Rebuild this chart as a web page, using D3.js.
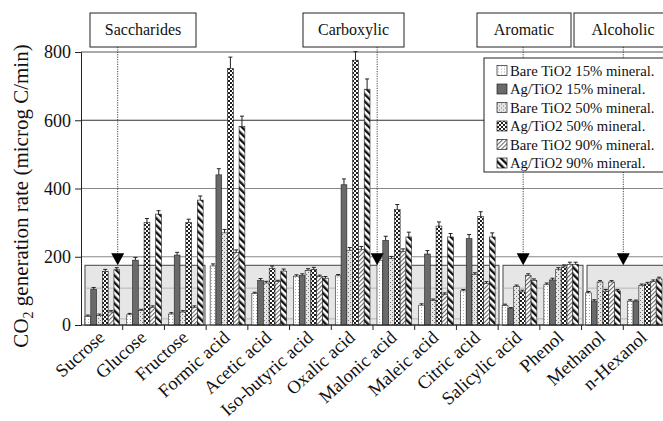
<!DOCTYPE html>
<html>
<head>
<meta charset="utf-8">
<script src="https://cdn.jsdelivr.net/npm/d3@7"></script>
<style>
  body { margin: 0; background: #fff; }
  svg { display: block; font-family: "Liberation Serif", "Times New Roman", serif; }
</style>
</head>
<body>
<div id="chart"></div>
<script>
const categories = ['Sucrose', 'Glucose', 'Fructose', 'Formic acid', 'Acetic acid', 'Iso-butyric acid',
  'Oxalic acid', 'Malonic acid', 'Maleic acid', 'Citric acid', 'Salicylic acid', 'Phenol', 'Methanol', 'n-Hexanol'];
const seriesNames = ['Bare TiO2 15% mineral.', 'Ag/TiO2 15% mineral.', 'Bare TiO2 50% mineral.',
  'Ag/TiO2 50% mineral.', 'Bare TiO2 90% mineral.', 'Ag/TiO2 90% mineral.'];

const bare15 = [25, 30, 32, 173, 92, 143, 144, 190, 58, 100, 57, 118, 94, 70];
const ag15   = [105, 190, 205, 440, 130, 145, 411, 248, 208, 253, 48, 132, 70, 70];
const bare50 = [28, 42, 38, 270, 123, 160, 219, 195, 72, 148, 113, 162, 126, 116];
const ag50   = [157, 300, 300, 752, 165, 163, 776, 338, 290, 318, 97, 170, 99, 120];
const bare90 = [38, 52, 52, 212, 127, 142, 222, 215, 90, 122, 145, 178, 126, 128];
const ag90   = [162, 325, 366, 582, 158, 137, 691, 258, 258, 258, 130, 178, 100, 135];

const errBare15 = [4, 4, 4, 6, 4, 4, 4, 6, 4, 4, 4, 5, 4, 4];
const errAg15   = [5, 8, 8, 18, 6, 5, 17, 12, 10, 12, 3, 5, 4, 3];
const errBare50 = [4, 4, 4, 10, 5, 5, 8, 6, 4, 5, 4, 6, 4, 4];
const errAg50   = [6, 12, 10, 33, 8, 6, 25, 15, 12, 14, 5, 6, 5, 5];
const errBare90 = [4, 4, 4, 8, 4, 4, 8, 8, 4, 5, 5, 6, 4, 4];
const errAg90   = [6, 10, 12, 30, 6, 5, 30, 14, 10, 12, 5, 6, 4, 5];

const yTicks = [0, 200, 400, 600, 800];

const groupNames = ['Saccharides', 'Carboxylic', 'Aromatic', 'Alcoholic'];
const groupLabelX = [[90, 196], [303, 404], [477, 571], [574, 672]];
const groupShadeX = [[85, 205], [245, 499], [503, 583], [587, 670]];
const groupArrowAt = [0.88, 7.1, 10.6, 13.0];   // in category units
const shadeTop = 175;

const values = [bare15, ag15, bare50, ag50, bare90, ag90];
const errors = [errBare15, errAg15, errBare50, errAg50, errBare90, errAg90];

const width = 663, height = 421;
const padL = 81, padR = 665, padT = 52, padB = 325;

const svg = d3.select('#chart').append('svg')
  .attr('width', width).attr('height', height);

const defs = svg.append('defs');
function pat(id, w, h, build, transform) {
  const p = defs.append('pattern').attr('id', id).attr('patternUnits', 'userSpaceOnUse')
    .attr('width', w).attr('height', h);
  if (transform) p.attr('patternTransform', transform);
  build(p);
}
pat('p0', 3, 3, p => {
  p.append('rect').attr('width', 3).attr('height', 3).attr('fill', '#fff');
  p.append('rect').attr('x', 1).attr('y', 1).attr('width', 1).attr('height', 1).attr('fill', '#aaa');
});
pat('p1', 4, 4, p => {
  p.append('rect').attr('width', 4).attr('height', 4).attr('fill', '#6a6a6a');
});
pat('p2', 4, 4, p => {
  p.append('rect').attr('width', 4).attr('height', 4).attr('fill', '#e6e6e6');
  p.append('rect').attr('width', 1).attr('height', 1).attr('fill', '#777');
  p.append('rect').attr('x', 2).attr('y', 2).attr('width', 1).attr('height', 1).attr('fill', '#777');
});
pat('p3', 4, 4, p => {
  p.append('rect').attr('width', 4).attr('height', 4).attr('fill', '#fff');
  p.append('rect').attr('width', 2).attr('height', 2).attr('fill', '#222');
  p.append('rect').attr('x', 2).attr('y', 2).attr('width', 2).attr('height', 2).attr('fill', '#222');
});
pat('p4', 3, 3, p => {
  p.append('rect').attr('width', 3).attr('height', 3).attr('fill', '#fff');
  p.append('line').attr('x1', 0.5).attr('x2', 0.5).attr('y1', 0).attr('y2', 3)
    .attr('stroke', '#666').attr('stroke-width', 1.1);
}, 'rotate(45)');
pat('p5', 5, 5, p => {
  p.append('rect').attr('width', 5).attr('height', 5).attr('fill', '#fff');
  p.append('line').attr('x1', 1.2).attr('x2', 1.2).attr('y1', 0).attr('y2', 5)
    .attr('stroke', '#111').attr('stroke-width', 2.4);
}, 'rotate(-45)');

const x0 = d3.scaleBand().domain(categories).range([padL, padR]).padding(0);
const bw = x0.bandwidth();
const x1 = d3.scaleBand().domain(d3.range(seriesNames.length)).range([4, bw - 3]).padding(0);
const y = d3.scaleLinear().domain([0, 800]).range([padB, padT]);

// gridlines
svg.append('g').selectAll('line')
  .data(yTicks.filter(d => d > 0))
  .enter().append('line')
  .attr('x1', padL).attr('x2', width)
  .attr('y1', d => y(d)).attr('y2', d => y(d))
  .attr('stroke', d => d === 600 ? '#333' : d === 800 ? '#555' : '#888')
  .attr('stroke-width', 1);

// shaded group boxes
const shade = svg.append('g');
groupShadeX.forEach(([a, b]) => {
  shade.append('rect')
    .attr('x', a).attr('y', y(shadeTop))
    .attr('width', b - a).attr('height', padB - y(shadeTop))
    .attr('fill', '#e6e6e6').attr('stroke', '#444').attr('stroke-width', 1);
  [108, 18].forEach(v => {
    shade.append('line').attr('x1', a).attr('x2', b)
      .attr('y1', y(v)).attr('y2', y(v))
      .attr('stroke', '#aaa').attr('stroke-width', 0.8);
  });
});

// bars
const barData = [];
categories.forEach((c, i) => {
  values.forEach((s, k) => barData.push({ c, k, v: s[i], e: errors[k][i] }));
});

svg.append('g').selectAll('rect')
  .data(barData)
  .enter().append('rect')
  .attr('x', d => x0(d.c) + x1(d.k))
  .attr('y', d => y(d.v))
  .attr('width', x1.bandwidth())
  .attr('height', d => padB - y(d.v))
  .attr('fill', d => `url(#p${d.k})`)
  .attr('stroke', '#222')
  .attr('stroke-width', 0.6);

// error bars (plus side only)
const eb = svg.append('g').attr('stroke', '#222').attr('stroke-width', 1);
barData.forEach(d => {
  const cx = x0(d.c) + x1(d.k) + x1.bandwidth() / 2;
  eb.append('line').attr('x1', cx).attr('x2', cx).attr('y1', y(d.v)).attr('y2', y(d.v + d.e));
  eb.append('line').attr('x1', cx - 2).attr('x2', cx + 2).attr('y1', y(d.v + d.e)).attr('y2', y(d.v + d.e));
});

// axes
const yAxis = svg.append('g')
  .attr('transform', `translate(${padL},0)`)
  .call(d3.axisLeft(y).tickValues(yTicks).tickSize(6).tickPadding(4));
yAxis.select('.domain').attr('stroke', '#222');
yAxis.selectAll('line').attr('stroke', '#222');
yAxis.selectAll('text').style('font-size', '18px').style('font-family', '"Liberation Serif", serif').attr('fill', '#111');

const xAxis = svg.append('g')
  .attr('transform', `translate(0,${padB})`);
xAxis.append('line').attr('x1', padL).attr('x2', width).attr('stroke', '#222');
xAxis.selectAll('.tk')
  .data(categories)
  .enter().append('line')
  .attr('x1', d => x0(d) + bw).attr('x2', d => x0(d) + bw)
  .attr('y1', 0).attr('y2', 5)
  .attr('stroke', '#222');
xAxis.selectAll('text')
  .data(categories)
  .enter().append('text')
  .attr('transform', d => `translate(${x0(d) + bw / 2 + 4},${14}) rotate(-42)`)
  .attr('text-anchor', 'end')
  .style('font-size', '18.5px')
  .attr('fill', '#111')
  .text(d => d);

// y axis title
const yt = svg.append('text')
  .attr('transform', 'translate(28,196) rotate(-90)')
  .attr('text-anchor', 'middle')
  .style('font-size', '21px')
  .attr('fill', '#111');
yt.append('tspan').text('CO');
yt.append('tspan').text('2').style('font-size', '14px').attr('dy', 5);
yt.append('tspan').text(' generation rate (microg C/min)').attr('dy', -5);

// group labels, pointers
groupNames.forEach((g, i) => {
  const [a, b] = groupLabelX[i];
  const ax = padL + groupArrowAt[i] * bw;
  svg.append('line')
    .attr('x1', ax).attr('x2', ax).attr('y1', 47).attr('y2', y(shadeTop) - 11)
    .attr('stroke', '#444').attr('stroke-width', 1).attr('stroke-dasharray', '1.2,1.2');
  svg.append('path')
    .attr('d', `M${ax - 6.5},${y(shadeTop) - 12} L${ax + 6.5},${y(shadeTop) - 12} L${ax},${y(shadeTop)} Z`)
    .attr('fill', '#000');
  svg.append('rect')
    .attr('x', a).attr('y', 13).attr('width', b - a).attr('height', 34)
    .attr('fill', '#fff').attr('stroke', '#222').attr('stroke-width', 1);
  svg.append('text')
    .attr('x', (a + b) / 2).attr('y', 35)
    .attr('text-anchor', 'middle')
    .style('font-size', '16px')
    .attr('fill', '#111')
    .text(g);
});

// legend
const lg = svg.append('g').attr('transform', 'translate(484,58)');
lg.append('rect').attr('width', 190).attr('height', 114)
  .attr('fill', '#fff').attr('stroke', '#222').attr('stroke-width', 1);
seriesNames.forEach((s, i) => {
  const row = lg.append('g').attr('transform', `translate(13,${12.5 + i * 18.5})`);
  row.append('rect').attr('x', 0).attr('y', -5).attr('width', 10).attr('height', 10)
    .attr('fill', `url(#p${i})`).attr('stroke', '#222').attr('stroke-width', 0.7);
  row.append('text').attr('x', 13).attr('y', 5)
    .style('font-size', '14.7px').attr('fill', '#111').text(s);
});
</script>
</body>
</html>
